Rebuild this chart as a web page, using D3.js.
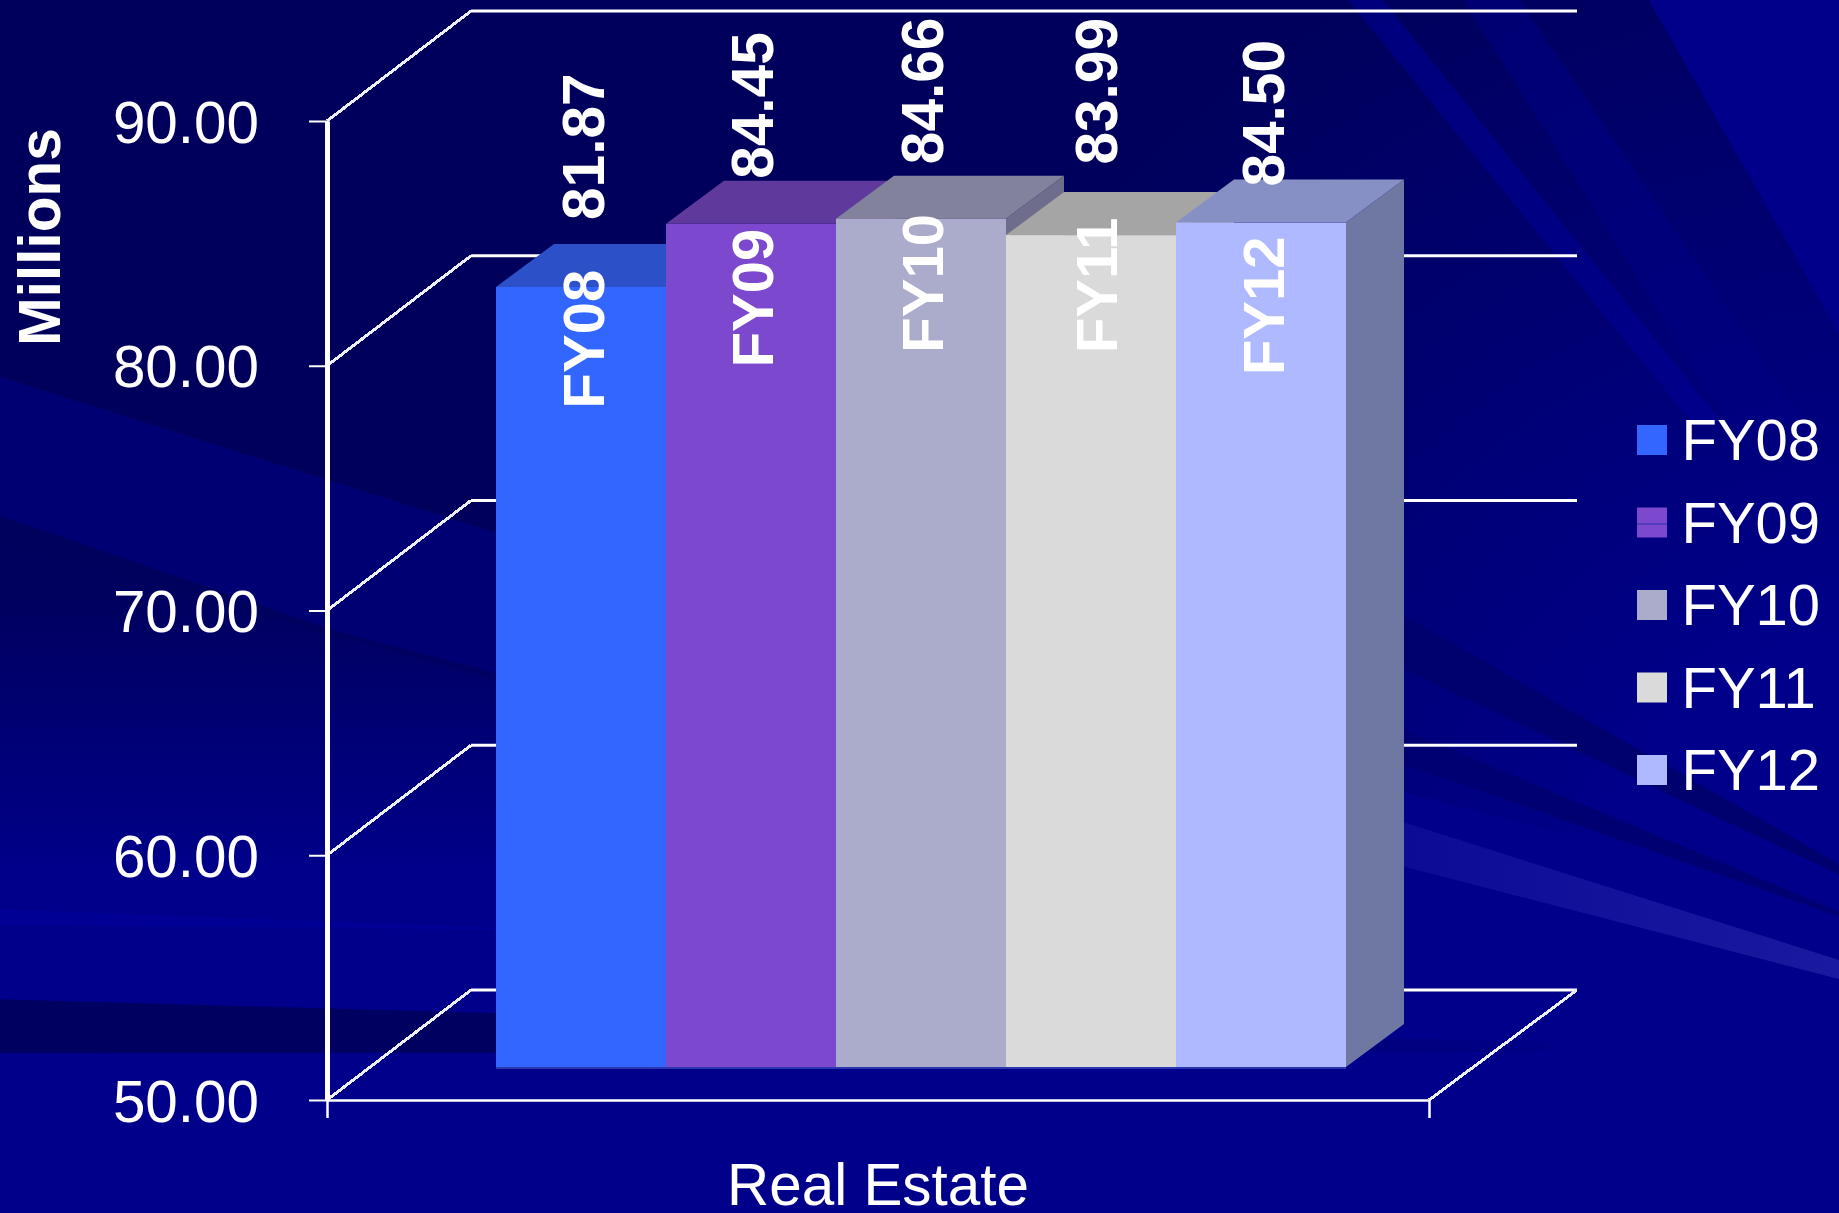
<!DOCTYPE html>
<html>
<head>
<meta charset="utf-8">
<style>
  html, body { margin: 0; padding: 0; background: #00008b; overflow: hidden; }
  svg { display: block; }
  text { font-family: "Liberation Sans", Arial, sans-serif; fill: #fff; }
</style>
<script src="https://cdn.jsdelivr.net/npm/d3@7"></script>
</head>
<body>
<div id="chart"></div>
<script>
// chart values
const fiscalYears = ['FY08', 'FY09', 'FY10', 'FY11', 'FY12'];
const values = [81.87, 84.45, 84.66, 83.99, 84.5];
const yTicks = [50, 60, 70, 80, 90];
const category = ['Real Estate'];

// face colours for each year
const frontColors = ['#3366ff', '#7b48ce', '#ababcb', '#dadada', '#aeb9ff'];
const topColors = ['#2b50c8', '#5f3a9c', '#82829c', '#a5a5a5', '#8790c4'];
const sideColors = ['#2640a8', '#4f3086', '#6e6e8c', '#8c8c8c', '#6f77a3'];

// the labels do not sit at a fixed place relative to their bars
const labelNudgeX = [108, 107, 107, 111, 107.5];
const labelNudgeY = [121.5, 143.5, 134, 118, 152.5];

const width = 1839;
const height = 1213;

const wallDepth = { dx: 144, dy: -110 }; // front of the chart box to its back wall
const barDepth = { dx: 58, dy: -43 };    // front of a bar to its back
const barLift = 33;                      // bars stand a little way back on the floor

const y = d3.scaleLinear().domain([50, 90]).range([1100, 121]);
const xBar = d3.scaleBand().domain(fiscalYears).rangeRound([496, 1346]);
const xBox = d3.scaleBand().domain(category).range([327, 1429]);
const fmt = d3.format('.2f');
const line = d3.line();

const svg = d3.select('#chart').append('svg')
  .attr('width', width)
  .attr('height', height);

// ---- slide background: dark rays over a flat blue
const defs = svg.append('defs');
const fade = defs.append('radialGradient')
  .attr('id', 'rayFade')
  .attr('gradientUnits', 'userSpaceOnUse')
  .attr('cx', 1900).attr('cy', 950).attr('r', 1100);
fade.append('stop').attr('offset', 0.27).attr('stop-color', '#00005c').attr('stop-opacity', 0);
fade.append('stop').attr('offset', 1).attr('stop-color', '#00005c').attr('stop-opacity', 1);

const glow = defs.append('linearGradient')
  .attr('id', 'rayGlow')
  .attr('gradientUnits', 'userSpaceOnUse')
  .attr('x1', 1405).attr('y1', 0).attr('x2', 1839).attr('y2', 0);
glow.append('stop').attr('offset', 0).attr('stop-color', '#0b0b96');
glow.append('stop').attr('offset', 1).attr('stop-color', '#1a1aa0');

// soft dark band on the left, gone by the time it reaches the floor
const soft = defs.append('linearGradient')
  .attr('id', 'raySoft')
  .attr('gradientUnits', 'userSpaceOnUse')
  .attr('x1', 0).attr('y1', 590).attr('x2', 0).attr('y2', 880);
soft.append('stop').attr('offset', 0).attr('stop-color', '#00005c').attr('stop-opacity', 0.95);
soft.append('stop').attr('offset', 1).attr('stop-color', '#00005c').attr('stop-opacity', 0);

const rays = [
  { fill: 'url(#rayFade)', opacity: 1, points: [[-10, -10], [1643, -10], [1839, 333], [1900, 500], [1750, 880], [1000, 691], [0, 377], [-10, 377]] },
  { fill: 'url(#rayFade)', opacity: 0.5, points: [[-10, 374], [1000, 688], [1000, 820], [-10, 540]] },
  { fill: 'url(#raySoft)', opacity: 1, points: [[-10, 512], [333, 630], [600, 700], [600, 880], [-10, 880]] },
  { fill: 'url(#rayFade)', opacity: 0.2, points: [[-10, 130], [900, 470], [900, 560], [-10, 215]] },
  { fill: '#000084', opacity: 0.55, points: [[1457, -10], [1513, -10], [1810, 430], [1733, 430]] },
  { fill: '#000098', opacity: 0.55, points: [[1340, -10], [1375, -10], [1720, 420], [1690, 420]] },
  { fill: '#000094', opacity: 1, points: [[-10, 909], [560, 930], [-10, 925]] },
  { fill: 'url(#rayFade)', opacity: 0.9, points: [[-10, 999], [1900, 1052], [-10, 1053]] },
  { fill: '#00006e', opacity: 1, points: [[1340, 579], [1950, 927], [1340, 639]] },
  { fill: '#000072', opacity: 1, points: [[1340, 703], [1912, 942], [1340, 742]] },
  { fill: 'url(#rayGlow)', opacity: 1, points: [[1390, 818], [1839, 960], [1839, 979], [1390, 863]] },
];

svg.append('g').selectAll('path')
  .data(rays)
  .join('path')
  .attr('d', d => line(d.points) + 'Z')
  .attr('fill', d => d.fill)
  .attr('opacity', d => d.opacity);

// ---- chart box: side wall diagonals and back wall lines
const box = svg.append('g').attr('fill', 'none').attr('stroke', '#fff');
const [boxLeft, boxRight] = xBox.range();

box.selectAll('.diagonal')
  .data(yTicks)
  .join('path')
  .attr('class', 'diagonal')
  .attr('stroke', '#eeeef6')
  .attr('stroke-width', 3)
  .attr('shape-rendering', 'crispEdges')
  .attr('d', d => line([[boxLeft, y(d)], [boxLeft + wallDepth.dx, y(d) + wallDepth.dy]]));

box.selectAll('.grid')
  .data(yTicks)
  .join('path')
  .attr('class', 'grid')
  .attr('stroke-width', 3)
  .attr('d', d => line([
    [boxLeft + wallDepth.dx, y(d) + wallDepth.dy],
    [boxRight + wallDepth.dx + 4, y(d) + wallDepth.dy],
  ]));

box.append('path')
  .attr('stroke', '#eeeef6')
  .attr('stroke-width', 3)
  .attr('shape-rendering', 'crispEdges')
  .attr('d', line([[boxRight, y(50)], [boxRight + wallDepth.dx + 4, y(50) + wallDepth.dy]]));

// ---- bars, left to right so each one covers the side of the last
const data = fiscalYears.map((name, i) => ({ name, value: values[i], i }));
const bw = xBar.bandwidth();
const bars = svg.append('g').selectAll('g')
  .data(data)
  .join('g');

bars.append('path') // side
  .attr('fill', d => sideColors[d.i])
  .attr('d', d => {
    const x1 = xBar(d.name) + bw;
    const top = y(d.value) - barLift;
    const bottom = y(50) - barLift;
    return line([
      [x1, top], [x1 + barDepth.dx, top + barDepth.dy],
      [x1 + barDepth.dx, bottom + barDepth.dy], [x1, bottom],
    ]) + 'Z';
  });

bars.append('path') // top
  .attr('fill', d => topColors[d.i])
  .attr('d', d => {
    const x0 = xBar(d.name);
    const top = y(d.value) - barLift;
    return line([
      [x0, top], [x0 + barDepth.dx, top + barDepth.dy],
      [x0 + bw + barDepth.dx, top + barDepth.dy], [x0 + bw, top],
    ]) + 'Z';
  });

bars.append('rect') // front
  .attr('x', d => xBar(d.name))
  .attr('y', d => y(d.value) - barLift)
  .attr('width', bw)
  .attr('height', d => y(50) - y(d.value))
  .attr('fill', d => frontColors[d.i]);

svg.append('rect') // thin dark edge along the foot of the bars
  .attr('x', xBar.range()[0])
  .attr('y', y(50) - barLift)
  .attr('width', xBar.range()[1] - xBar.range()[0])
  .attr('height', 2)
  .attr('fill', '#2a36ae');

// ---- axes
const yAxis = svg.append('g')
  .attr('transform', `translate(${boxLeft},0)`)
  .call(d3.axisLeft(y).tickValues(yTicks).tickFormat(fmt).tickSize(18).tickSizeOuter(0).tickPadding(50));
yAxis.select('.domain').attr('stroke', '#fff').attr('stroke-width', 5);
yAxis.selectAll('.tick line').attr('stroke', '#fff').attr('stroke-width', 2);
yAxis.selectAll('.tick text')
  .attr('font-size', 58.4)
  .attr('dy', 21)
  .attr('font-family', '"Liberation Sans", Arial, sans-serif')
  .attr('fill', '#fff');

const xAxis = svg.append('g')
  .attr('transform', `translate(0,${y(50)})`)
  .call(d3.axisBottom(xBox).tickSizeInner(0).tickSizeOuter(18).tickPadding(64));
xAxis.select('.domain').attr('stroke', '#fff').attr('stroke-width', 2.5);
xAxis.selectAll('.tick line').remove();
xAxis.selectAll('.tick text')
  .attr('font-size', 58.4)
  .attr('font-family', '"Liberation Sans", Arial, sans-serif')
  .attr('fill', '#fff');

svg.append('text')
  .attr('transform', 'translate(60,237) rotate(-90)')
  .attr('text-anchor', 'middle')
  .attr('font-size', 58.5)
  .attr('font-weight', 'bold')
  .text('Millions');

// ---- rotated labels: year then value, reading upwards
const labels = svg.append('g').selectAll('g')
  .data(data)
  .join('g')
  .attr('transform', d => `translate(${xBar(d.name) + labelNudgeX[d.i]},${y(d.value) - barLift + labelNudgeY[d.i]}) rotate(-90)`)
  .attr('font-weight', 'bold');

labels.append('text').attr('font-size', 58).text(d => d.name);
labels.append('text').attr('font-size', 58.6).attr('x', 188.5).text(d => fmt(d.value));

// ---- legend
const legendY = d3.scalePoint().domain(fiscalYears).range([425, 755]);
const legend = svg.append('g').selectAll('g')
  .data(data)
  .join('g')
  .attr('transform', d => `translate(1637,${legendY(d.name)})`);

legend.append('rect')
  .attr('width', 30)
  .attr('height', 30)
  .attr('fill', d => frontColors[d.i]);

legend.append('text')
  .attr('x', 44.5)
  .attr('y', 35)
  .attr('font-size', 58)
  .text(d => d.name);

// the FY09 swatch has a thin line through it
svg.append('rect')
  .attr('x', 1637)
  .attr('y', legendY('FY09') + 16)
  .attr('width', 30)
  .attr('height', 1)
  .attr('fill', '#2f2fae');
</script>
</body>
</html>
